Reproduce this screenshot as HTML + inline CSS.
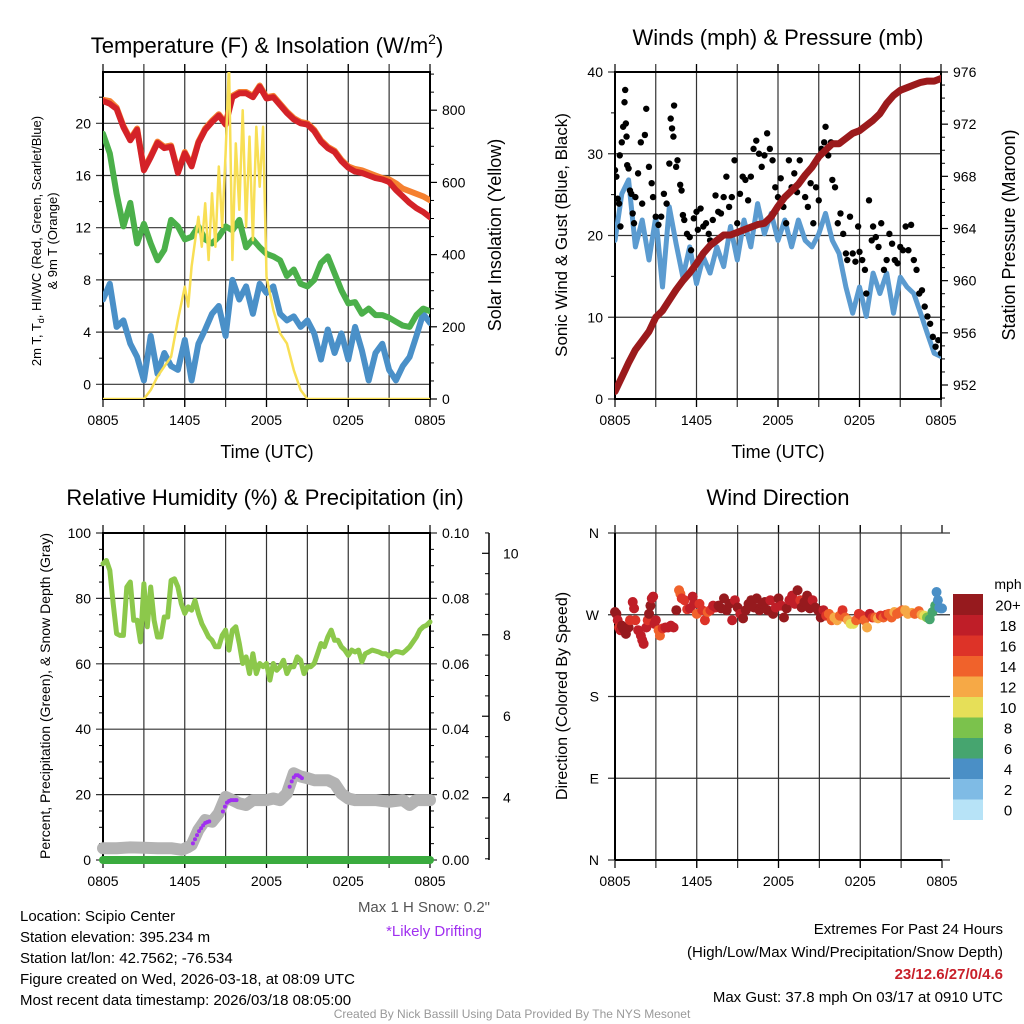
<!DOCTYPE html>
<html><head><meta charset="utf-8"><title>Scipio Center Meteogram</title>
<style>
html,body{margin:0;padding:0;background:#fff;}
svg{display:block;font-family:"Liberation Sans",sans-serif;}
</style></head>
<body>
<svg id="chart" width="1024" height="1024" viewBox="0 0 1024 1024" xmlns="http://www.w3.org/2000/svg">
<rect x="0" y="0" width="1024" height="1024" fill="#fff"/>
<text x="267" y="53" font-size="22" text-anchor="middle">Temperature (F) &amp; Insolation (W/m<tspan font-size="14" dy="-9">2</tspan><tspan dy="9">)</tspan></text>
<text x="778" y="45" font-size="22" text-anchor="middle">Winds (mph) &amp; Pressure (mb)</text>
<text x="265" y="505" font-size="22" text-anchor="middle">Relative Humidity (%) &amp; Precipitation (in)</text>
<text x="778" y="505" font-size="22" text-anchor="middle">Wind Direction</text>
<text transform="translate(41,241) rotate(-90)" font-size="13" text-anchor="middle">2m T, T<tspan font-size="9" dy="3">d</tspan><tspan dy="-3">, HI/WC (Red, Green, Scarlet/Blue)</tspan></text>
<text transform="translate(57,241) rotate(-90)" font-size="13" text-anchor="middle">&amp; 9m T (Orange)</text>
<text transform="translate(501,235) rotate(-90)" font-size="18" text-anchor="middle">Solar Insolation (Yellow)</text>
<text x="267" y="458" font-size="18" text-anchor="middle">Time (UTC)</text>
<text transform="translate(567,235) rotate(-90)" font-size="17" text-anchor="middle">Sonic Wind &amp; Gust (Blue, Black)</text>
<text transform="translate(1015,235) rotate(-90)" font-size="18" text-anchor="middle">Station Pressure (Maroon)</text>
<text x="778" y="458" font-size="18" text-anchor="middle">Time (UTC)</text>
<text transform="translate(50,696) rotate(-90)" font-size="14" text-anchor="middle">Percent, Precipitation (Green), &amp; Snow Depth (Gray)</text>
<text transform="translate(567,696) rotate(-90)" font-size="16" text-anchor="middle">Direction (Colored By Speed)</text>
<g font-size="15">
<text x="20" y="921">Location: Scipio Center</text>
<text x="20" y="942">Station elevation: 395.234 m</text>
<text x="20" y="963">Station lat/lon: 42.7562; -76.534</text>
<text x="20" y="984">Figure created on Wed, 2026-03-18, at 08:09 UTC</text>
<text x="20" y="1005">Most recent data timestamp: 2026/03/18 08:05:00</text>
</g>
<text x="490" y="912" font-size="15" fill="#555" text-anchor="end">Max 1 H Snow: 0.2"</text>
<text x="434" y="936" font-size="15" fill="#a030f0" text-anchor="middle">*Likely Drifting</text>
<g font-size="15" text-anchor="end">
<text x="1003" y="934">Extremes For Past 24 Hours</text>
<text x="1003" y="957">(High/Low/Max Wind/Precipitation/Snow Depth)</text>
<text x="1003" y="979" fill="#c8202a" font-weight="bold">23/12.6/27/0/4.6</text>
<text x="1003" y="1002">Max Gust: 37.8 mph On 03/17 at 0910 UTC</text>
</g>
<text x="512" y="1018" font-size="12" fill="#999" text-anchor="middle">Created By Nick Bassill Using Data Provided By The NYS Mesonet</text>
<g id="layer"></g>
</svg>
<script>
const timeTickLabels = ["0805","1405","2005","0205","0805"];
const timeTickHours = [0,6,12,18,24];
const timeGridHours = [3,6,9,12,15,18,21];
const T_HALF = [0,0.5,1,1.5,2,2.5,3,3.5,4,4.5,5,5.5,6,6.5,7,7.5,8,8.5,9,9.5,10,10.5,11,11.5,12,12.5,13,13.5,14,14.5,15,15.5,16,16.5,17,17.5,18,18.5,19,19.5,20,20.5,21,21.5,22,22.5,23,23.5,24];

const tempAir = [21.7,21.5,21.1,19.7,18.7,19.5,16.4,17.4,18.5,18.1,18.2,16.2,17.7,16.7,18.5,19.5,20.1,20.6,19.9,22.0,22.3,22.3,22.0,22.8,21.9,22.0,21.4,20.8,20.3,20.0,19.9,19.4,18.6,18.1,17.8,17.1,16.6,16.3,16.2,16.0,15.8,15.7,15.5,14.9,14.4,13.9,13.5,13.2,12.8];
const temp9m = [21.8,21.7,21.2,19.8,18.8,19.6,16.5,17.5,18.6,18.2,18.3,16.3,17.8,16.8,18.6,19.6,20.2,20.7,20.0,22.1,22.4,22.4,22.1,22.9,22.0,22.1,21.5,20.9,20.4,20.1,20.0,19.5,18.7,18.2,17.9,17.2,16.7,16.5,16.4,16.2,16.0,15.8,15.7,15.4,15.0,14.8,14.6,14.4,14.1];
const dewPoint = [19.2,17.7,14.6,12.1,13.9,10.8,12.3,10.8,9.5,10.3,12.6,12.1,11.1,11.3,12.1,11.1,10.8,11.3,12.1,11.8,12.6,10.5,11.1,10.5,10.0,9.8,9.5,8.3,8.8,7.7,7.5,8.0,9.3,9.8,8.5,7.2,6.2,6.3,5.4,5.8,5.3,5.3,5.1,4.8,4.5,4.4,5.3,5.8,5.6];
const windChill = [6.5,7.7,4.4,4.9,3.1,2.1,0.3,3.7,0.8,2.4,1.4,1.1,3.4,0.3,3.1,4.2,5.4,6.0,3.7,8.0,6.5,7.5,5.4,7.7,7.0,7.5,5.4,4.9,5.2,4.4,4.9,3.9,1.9,4.2,2.4,3.9,1.9,4.4,2.6,0.3,2.4,3.1,1.1,0.3,1.4,2.1,3.7,5.4,4.7];
const solarHours = [0,3,3.5,4,4.5,5,5.5,6,6.25,6.5,7,7.25,7.5,7.75,8,8.25,8.5,8.75,9,9.25,9.5,9.75,10,10.25,10.5,10.75,11,11.25,11.5,11.75,12,12.5,13,13.5,14,14.5,15,24];
const solarWm2 = [0,0,25,62,90,117,219,311,256,367,505,422,542,385,570,422,644,477,681,930,385,708,524,800,477,727,440,754,588,754,339,247,182,154,80,25,0,0];
const tempTicks = [0,4,8,12,16,20];
const solarTicks = [0,200,400,600,800];

const sonicWind = [19.4,25.1,26.8,18.6,21.9,17.0,22.3,13.7,23.5,19.0,14.9,18.6,14.1,17.4,15.4,18.6,16.2,21.1,17.0,21.9,18.6,23.9,20.2,22.7,19.4,21.9,18.6,21.9,19.4,18.6,20.2,22.7,19.4,17.8,13.7,10.5,13.7,10.1,15.4,12.9,15.4,10.5,14.9,13.7,12.9,10.5,8.0,5.6,5.2];
const pressure = [951.5,952.6,953.7,954.7,955.4,956.1,957.2,957.7,958.5,959.3,960.0,960.6,961.3,962.1,962.7,963.1,963.5,963.5,963.7,963.9,964.1,964.3,964.4,964.9,965.7,966.4,966.9,967.4,968.1,968.7,969.5,970.0,970.5,970.5,970.9,971.3,971.5,971.9,972.3,972.8,973.6,974.2,974.6,974.8,975.0,975.2,975.3,975.3,975.5];
const gustHours = [0,0.1,0.2,0.3,0.35,0.4,0.5,0.6,0.7,0.75,0.8,0.85,0.9,1.0,1.1,1.2,1.3,1.4,1.5,1.7,1.9,2.0,2.2,2.3,2.5,2.7,2.8,3.0,3.2,3.4,3.6,3.8,4.0,4.1,4.2,4.3,4.35,4.5,4.6,4.8,4.9,5.0,5.1,5.3,5.5,5.6,5.8,6.0,6.1,6.3,6.5,6.7,6.9,7.0,7.2,7.4,7.6,7.8,8.0,8.2,8.4,8.6,8.8,9.0,9.2,9.4,9.6,9.8,10.0,10.2,10.4,10.6,10.8,11.0,11.2,11.4,11.6,11.8,12.0,12.2,12.4,12.6,12.8,13.0,13.2,13.4,13.6,13.8,14.0,14.2,14.4,14.6,14.8,15.0,15.2,15.4,15.5,15.7,15.9,16.0,16.2,16.4,16.6,16.8,17.0,17.1,17.3,17.5,17.7,17.9,18.0,18.2,18.4,18.5,18.7,18.9,19.0,19.2,19.4,19.6,19.8,20.0,20.2,20.4,20.6,20.8,21.0,21.2,21.4,21.6,21.8,22.0,22.2,22.4,22.6,22.8,23.0,23.2,23.4,23.6,23.8,24.0];
const gustMph = [28.0,27.2,24.5,23.9,29.8,21.1,31.4,33.3,36.3,37.8,33.7,32.1,28.6,28.2,25.5,25.1,22.7,21.5,24.7,27.6,31.4,23.9,32.3,35.5,28.4,26.4,24.7,22.3,21.3,22.3,25.1,23.9,28.8,34.3,33.1,32.1,35.9,28.4,29.2,26.2,25.5,22.5,21.9,20.2,19.8,18.2,22.1,22.9,20.7,23.3,21.1,21.5,20.2,19.4,21.9,24.9,22.9,22.7,24.7,27.2,23.5,24.7,29.2,21.5,25.1,27.2,26.8,24.3,27.2,30.6,31.6,30.0,28.4,29.8,32.5,30.6,29.2,25.9,24.7,27.0,23.5,21.5,29.2,25.9,27.6,25.3,29.2,27.0,24.7,23.5,26.4,21.5,25.9,24.3,30.6,31.4,33.3,29.8,31.4,26.8,25.9,21.5,22.7,20.2,17.8,17.0,22.3,17.8,16.8,21.1,18.0,17.0,15.8,12.9,24.3,19.4,21.1,19.8,18.6,21.5,15.8,17.0,20.2,19.0,17.0,16.6,18.6,18.2,21.1,18.2,21.3,17.0,15.8,12.9,13.3,11.3,10.1,9.2,7.6,6.4,7.2,5.6];
const windTicks = [0,10,20,30,40];
const pressTicks = [952,956,960,964,968,972,976];

const T_Q = [0,0.25,0.5,0.75,1,1.25,1.5,1.75,2,2.25,2.5,2.75,3,3.25,3.5,3.75,4,4.25,4.5,4.75,5,5.25,5.5,5.75,6,6.25,6.5,6.75,7,7.25,7.5,7.75,8,8.25,8.5,8.75,9,9.25,9.5,9.75,10,10.25,10.5,10.75,11,11.25,11.5,11.75,12,12.25,12.5,12.75,13,13.25,13.5,13.75,14,14.25,14.5,14.75,15,15.25,15.5,15.75,16,16.25,16.5,16.75,17,17.25,17.5,17.75,18,18.25,18.5,18.75,19,19.25,19.5,19.75,20,20.25,20.5,20.75,21,21.25,21.5,21.75,22,22.25,22.5,22.75,23,23.25,23.5,23.75,24];
const relHum = [90.6,91.6,88.6,78.4,69.2,68.7,68.7,83.5,85.0,73.3,73.3,66.7,84.5,71.3,83.5,73.3,68.2,68.2,74.3,74.3,85.5,86.0,83.5,78.4,75.4,77.4,76.4,79.4,75.4,72.3,70.3,68.2,67.2,65.2,65.2,68.7,70.3,64.2,70.3,71.3,66.2,60.1,62.1,57.0,63.1,57.0,60.1,59.1,60.1,55.0,60.1,58.0,59.1,61.1,57.0,59.1,59.1,62.1,61.1,57.0,59.1,59.1,60.1,63.1,66.2,65.2,68.2,70.3,67.2,67.2,65.2,64.2,62.6,64.2,63.6,64.2,60.6,63.1,63.6,64.2,63.9,63.6,63.1,63.1,62.3,63.3,63.8,63.6,63.3,64.2,65.2,66.7,68.2,70.3,71.3,71.8,72.8];
const snowHours = [0,1,2,3,4,5,5.8,6.2,6.5,7,7.5,8,8.5,9,9.5,10,10.5,11,11.5,12,12.5,13,13.5,14,14.5,15,15.5,16,16.5,17,17.5,18,18.5,19,20,21,22,22.5,23,24];
const snowDepth = [2.76,2.76,2.78,2.77,2.76,2.76,2.72,2.78,2.84,3.21,3.45,3.41,3.62,4.02,3.94,3.86,3.82,3.94,3.94,3.94,3.98,3.94,4.1,4.6,4.52,4.48,4.43,4.43,4.43,4.35,4.1,3.98,3.94,3.94,3.94,3.9,3.94,3.82,3.94,3.94];
const driftHours = [6.6,6.75,6.9,7.05,7.2,7.35,7.5,7.65,7.8,8.8,8.95,9.1,9.25,9.4,9.55,9.7,9.8,13.7,13.85,14.0,14.15,14.3,14.45,14.6];
const driftDepth = [2.88,2.98,3.08,3.18,3.25,3.32,3.38,3.4,3.42,3.66,3.78,3.88,3.92,3.94,3.94,3.94,3.94,4.27,4.4,4.5,4.55,4.55,4.52,4.48];
const precipIn = [0,0,0,0,0];
const precipHours = [0,6,12,18,24];
const rhTicks = [0,20,40,60,80,100];
const precipTicks = ["0.00","0.02","0.04","0.06","0.08","0.10"];
const snowTicks = [4,6,8,10];

const dirHours = [0,0.1,0.2,0.3,0.4,0.5,0.6,0.7,0.8,0.9,1.0,1.1,1.3,1.4,1.5,1.7,1.9,2.0,2.1,2.3,2.4,2.5,2.6,2.7,2.8,2.9,3.0,3.2,3.3,3.5,3.7,3.9,4.1,4.3,4.5,4.7,4.8,4.9,5.1,5.3,5.5,5.7,5.8,6.0,6.2,6.4,6.6,6.8,7.0,7.2,7.4,7.6,7.8,8.0,8.2,8.4,8.6,8.8,9.0,9.2,9.4,9.6,9.8,10.0,10.2,10.4,10.6,10.8,11.0,11.2,11.4,11.6,11.8,12.0,12.2,12.4,12.6,12.8,13.0,13.2,13.4,13.6,13.7,13.9,14.1,14.3,14.5,14.7,14.9,15.1,15.3,15.5,15.7,15.9,16.1,16.3,16.5,16.7,16.9,17.1,17.3,17.5,17.7,17.9,18.1,18.3,18.5,18.7,18.9,19.1,19.3,19.5,19.7,19.9,20.1,20.3,20.5,20.7,20.9,21.1,21.3,21.5,21.8,22.0,22.3,22.5,22.7,22.9,23.1,23.3,23.5,23.6,23.7,23.8,23.9,24.0];
const dirDeg = [273,271,264,256,253,258,255,253,249,255,256,264,284,277,264,253,247,242,238,256,264,271,280,288,290,260,264,253,247,255,256,256,258,256,275,297,293,288,286,276,277,290,282,271,282,275,264,273,275,280,278,280,277,288,275,282,264,286,278,271,266,275,282,286,278,288,275,282,284,275,286,271,278,288,280,267,277,286,291,282,297,286,278,284,291,277,286,278,275,267,275,269,271,264,267,264,269,275,267,264,260,260,264,271,269,264,256,271,267,267,266,269,267,270,271,267,273,271,273,275,275,271,272,271,274,270,269,267,265,273,280,295,286,278,277,277];
const dirSpeed = [20,20,18,16,18,20,20,20,20,20,20,16,18,18,16,18,18,18,18,18,16,20,20,18,18,18,18,14,14,16,18,18,18,18,20,14,14,16,16,16,18,18,18,14,16,16,16,14,16,18,18,20,20,20,20,20,18,18,20,18,20,20,20,20,20,20,20,20,20,20,18,20,18,20,18,20,20,18,18,18,20,16,20,20,20,20,18,20,20,20,18,16,14,14,12,12,14,16,14,12,10,10,14,16,16,14,12,18,16,14,12,16,14,16,14,14,12,14,14,14,12,12,12,14,14,12,10,8,6,6,6,4,4,4,4,4,4];
const speedBins = ["0","2","4","6","8","10","12","14","16","18","20+"];
const speedColors = ["#b7e3f7","#7fbbe5","#4a8fc6","#46a56f","#7bc24c","#e6df58","#f6a946","#f0622b","#dd3328","#bf1e28","#961a1e"];
const dirTicks = ["N","E","S","W","N"];

const NS = "http://www.w3.org/2000/svg";
const layer = document.getElementById("layer");
function mk(tag, attrs, parent) {
  const e = document.createElementNS(NS, tag);
  for (const k in attrs) e.setAttribute(k, attrs[k]);
  (parent || layer).appendChild(e);
  return e;
}
function grp(name) {
  const g = mk("g", {});
  
  
  return g;
}
function linScale(d0, d1, r0, r1) { return v => r0 + (v - d0) * (r1 - r0) / (d1 - d0); }

function drawFrame(name, x0, x1, y0, y1, xs, opts) {
  const g = grp(name + "-axes");
  timeGridHours.forEach(h => {
    const x = xs(h);
    const l = mk("line", {x1:x, x2:x, y1:y0 - (opts.topTicks ? 8 : 0), y2:y1 + 8, stroke:"#333", "stroke-width":1.2}, g);
    
    
  });
  timeTickLabels.forEach((lab, i) => {
    const x = xs(timeTickHours[i]);
    mk("line", {x1:x, x2:x, y1:y1, y2:y1 + 8, stroke:"#000", "stroke-width":1.2}, g);
    if (opts.topTicks) mk("line", {x1:x, x2:x, y1:y0 - 8, y2:y0, stroke:"#000", "stroke-width":1.2}, g);
    const t = mk("text", {x:x, y:y1 + 26, "font-size":14, "text-anchor":"middle"}, g);
    t.textContent = lab;
    
    
  });
  return g;
}
function box(g, x0, x1, y0, y1) {
  mk("rect", {x:x0, y:y0, width:x1 - x0, height:y1 - y0, fill:"none", stroke:"#000", "stroke-width":2}, g);
}
function path(xsArr, ysArr, xs, ys) {
  return xsArr.map((h, i) => (i ? "L" : "M") + xs(h).toFixed(1) + "," + ys(ysArr[i]).toFixed(1)).join(" ");
}
function clip(id, x0, x1, y0, y1) {
  const c = mk("clipPath", {id:id});
  mk("rect", {x:x0, y:y0, width:x1 - x0, height:y1 - y0}, c);
}

(function () {
  const x0 = 103, x1 = 430, y0 = 72, y1 = 399;
  const xs = linScale(0, 24, x0, x1);
  const ys = linScale(0, 20, 384.3, 123.3);
  const ysR = linScale(0, 800, 399, 110.2);
  const g = drawFrame("temperature", x0, x1, y0, y1, xs, {topTicks:true});
  tempTicks.forEach(v => {
    const y = ys(v);
    mk("line", {x1:x0 - 7, x2:x1, y1:y, y2:y, stroke:"#333", "stroke-width":1.2}, g);
    const t = mk("text", {x:x0 - 12, y:y + 5, "font-size":14, "text-anchor":"end"}, g);
    t.textContent = v;
    
    
  });
  for (let v = 0; v <= 22; v += 2) if (v % 4) mk("line", {x1:x0 - 4, x2:x0, y1:ys(v), y2:ys(v), stroke:"#000"}, g);
  solarTicks.forEach(v => {
    const y = ysR(v);
    mk("line", {x1:x1, x2:x1 + 7, y1:y, y2:y, stroke:"#000", "stroke-width":1.2}, g);
    const t = mk("text", {x:x1 + 12, y:y + 5, "font-size":14}, g);
    t.textContent = v;
    
    
  });
  for (let v = 50; v <= 900; v += 50) if (v % 200) mk("line", {x1:x1, x2:x1 + 4, y1:ysR(v), y2:ysR(v), stroke:"#000"}, g);
  clip("c1", x0, x1, y0, y1);
  const d = grp("temperature-series");
  d.setAttribute("clip-path", "url(#c1)");
  const p1 = mk("path", {d:path(T_HALF, windChill, xs, ys), fill:"none", stroke:"#4a90c8", "stroke-width":6, "stroke-linejoin":"round", "stroke-linecap":"round"}, d);
   
  const p2 = mk("path", {d:path(T_HALF, dewPoint, xs, ys), fill:"none", stroke:"#4bb04a", "stroke-width":6, "stroke-linejoin":"round", "stroke-linecap":"round"}, d);
   
  const p3 = mk("path", {d:path(T_HALF, temp9m, xs, ys), fill:"none", stroke:"#f58030", "stroke-width":6, "stroke-linejoin":"round", "stroke-linecap":"round"}, d);
   
  const p4 = mk("path", {d:path(T_HALF, tempAir, xs, ys), fill:"none", stroke:"#d42228", "stroke-width":6, "stroke-linejoin":"round", "stroke-linecap":"round"}, d);
   
  const p5 = mk("path", {d:path(solarHours, solarWm2, xs, ysR), fill:"none", stroke:"#f8df55", "stroke-width":2.5, "stroke-linejoin":"round"}, d);
   
  box(g, x0, x1, y0, y1);
})();

(function () {
  const x0 = 615, x1 = 941, y0 = 72, y1 = 399;
  const xs = linScale(0, 24, x0, x1);
  const ys = linScale(0, 40, 399, 72);
  const ysR = linScale(952, 976, 385, 72);
  const g = drawFrame("wind", x0, x1, y0, y1, xs, {topTicks:true});
  windTicks.forEach(v => {
    const y = ys(v);
    mk("line", {x1:x0 - 7, x2:(v > 0 && v < 40) ? x1 : x0, y1:y, y2:y, stroke:"#333", "stroke-width":1.2}, g);
    const t = mk("text", {x:x0 - 12, y:y + 5, "font-size":14, "text-anchor":"end"}, g);
    t.textContent = v;
    
    
  });
  for (let v = 5; v < 40; v += 10) mk("line", {x1:x0 - 4, x2:x0, y1:ys(v), y2:ys(v), stroke:"#000"}, g);
  pressTicks.forEach(v => {
    const y = ysR(v);
    mk("line", {x1:x1, x2:x1 + 7, y1:y, y2:y, stroke:"#000", "stroke-width":1.2}, g);
    const t = mk("text", {x:x1 + 12, y:y + 5, "font-size":14}, g);
    t.textContent = v;
    
    
  });
  for (let v = 951; v <= 976; v++) if (v % 4) mk("line", {x1:x1, x2:x1 + 4, y1:ysR(v), y2:ysR(v), stroke:"#000"}, g);
  clip("c2", x0, x1, y0, y1);
  const d = grp("wind-series");
  d.setAttribute("clip-path", "url(#c2)");
  const p1 = mk("path", {d:path(T_HALF, sonicWind, xs, ys), fill:"none", stroke:"#5b9bd0", "stroke-width":5, "stroke-linejoin":"round", "stroke-linecap":"round"}, d);
   
  gustHours.forEach((h, i) => {
    const c = mk("circle", {cx:xs(h), cy:ys(gustMph[i]), r:3.2, fill:"#000"}, d);
    
    
  });
  const p2 = mk("path", {d:path(T_HALF, pressure, xs, ysR), fill:"none", stroke:"#9b1a1c", "stroke-width":7, "stroke-linejoin":"round", "stroke-linecap":"round"}, d);
   
  box(g, x0, x1, y0, y1);
})();

(function () {
  const x0 = 103, x1 = 430, y0 = 533, y1 = 860;
  const xs = linScale(0, 24, x0, x1);
  const ys = linScale(0, 100, 860, 533);
  const ysS = linScale(4, 10, 797.7, 553.3);
  const g = drawFrame("humidity", x0, x1, y0, y1, xs, {topTicks:true});
  rhTicks.forEach((v, i) => {
    const y = ys(v);
    mk("line", {x1:x0 - 7, x2:x1 + 7, y1:y, y2:y, stroke:"#333", "stroke-width":1.2}, g);
    const t = mk("text", {x:x0 - 12, y:y + 5, "font-size":14, "text-anchor":"end"}, g);
    t.textContent = v;
    
    
    const t2 = mk("text", {x:x1 + 12, y:y + 5, "font-size":14}, g);
    t2.textContent = precipTicks[i];
    
    
  });
  for (let v = 5; v < 100; v += 5) if (v % 20) {
    mk("line", {x1:x0 - 4, x2:x0, y1:ys(v), y2:ys(v), stroke:"#000"}, g);
    mk("line", {x1:x1, x2:x1 + 4, y1:ys(v), y2:ys(v), stroke:"#000"}, g);
  }
  const sx = 489;
  mk("line", {x1:sx, x2:sx, y1:533, y2:860, stroke:"#000", "stroke-width":1.5}, g);
  snowTicks.forEach(v => {
    const y = ysS(v);
    mk("line", {x1:sx, x2:sx - 7, y1:y, y2:y, stroke:"#000", "stroke-width":1.2}, g);
    const t = mk("text", {x:sx + 14, y:y + 5, "font-size":14}, g);
    t.textContent = v;
    
    
  });
  for (let v = 2.5; v <= 10.5; v += 0.5) if (v % 2) mk("line", {x1:sx, x2:sx - 4, y1:ysS(v), y2:ysS(v), stroke:"#000"}, g);
  const d = grp("humidity-series");
  const p0 = mk("path", {d:path(snowHours, snowDepth, xs, ysS), fill:"none", stroke:"#b3b3b3", "stroke-width":12, "stroke-linejoin":"round", "stroke-linecap":"round"}, d);
   
  driftHours.forEach((h, i) => {
    const c = mk("circle", {cx:xs(h), cy:ysS(driftDepth[i]), r:2, fill:"#a030f0"}, d);
    
    
  });
  const p1 = mk("path", {d:path(precipHours, precipIn.map(v => v * 1000), xs, ys), fill:"none", stroke:"#3aab3e", "stroke-width":8, "stroke-linecap":"round"}, d);
   
  const p2 = mk("path", {d:path(T_Q, relHum, xs, ys), fill:"none", stroke:"#8cc84b", "stroke-width":5, "stroke-linejoin":"round", "stroke-linecap":"round"}, d);
   
  box(g, x0, x1, y0, y1);
})();

(function () {
  const x0 = 615, x1 = 942, y0 = 533, y1 = 860;
  const xs = linScale(0, 24, x0, x1);
  const ys = linScale(0, 360, 860, 533);
  const g = drawFrame("direction", x0, x1, y0, y1, xs, {topTicks:true});
  dirTicks.forEach((lab, i) => {
    const y = ys(i * 90);
    mk("line", {x1:x0 - 7, x2:x1 + 8, y1:y, y2:y, stroke:"#333", "stroke-width":1.2}, g);
    const t = mk("text", {x:x0 - 16, y:y + 5, "font-size":14, "text-anchor":"end"}, g);
    t.textContent = lab;
    
    
  });
  const d = grp("direction-points");
  dirHours.forEach((h, i) => {
    const s = dirSpeed[i];
    const bin = Math.min(10, Math.floor(s / 2));
    const c = mk("circle", {cx:xs(h), cy:ys(dirDeg[i]), r:5, fill:speedColors[bin]}, d);
    
    
  });
  mk("line", {x1:x0, x2:x0, y1:y0, y2:y1, stroke:"#000", "stroke-width":2}, g);
  mk("line", {x1:x0, x2:x1, y1:y1, y2:y1, stroke:"#000", "stroke-width":2}, g);
  const cb = grp("speed-colorbar");
  const ct = mk("text", {x:1008, y:589, "font-size":14, "text-anchor":"middle"}, cb);
  ct.textContent = "mph";
  
  
  const bh = 20.5;
  speedBins.forEach((lab, i) => {
    const y = 594 + (10 - i) * bh;
    const r = mk("rect", {x:953, y:y, width:30, height:bh + 0.5, fill:speedColors[i]}, cb);
    
    
    const t = mk("text", {x:1008, y:y + bh / 2 + 6, "font-size":15, "text-anchor":"middle"}, cb);
    t.textContent = lab;
    
    
  });
})();
</script>
</body></html>
